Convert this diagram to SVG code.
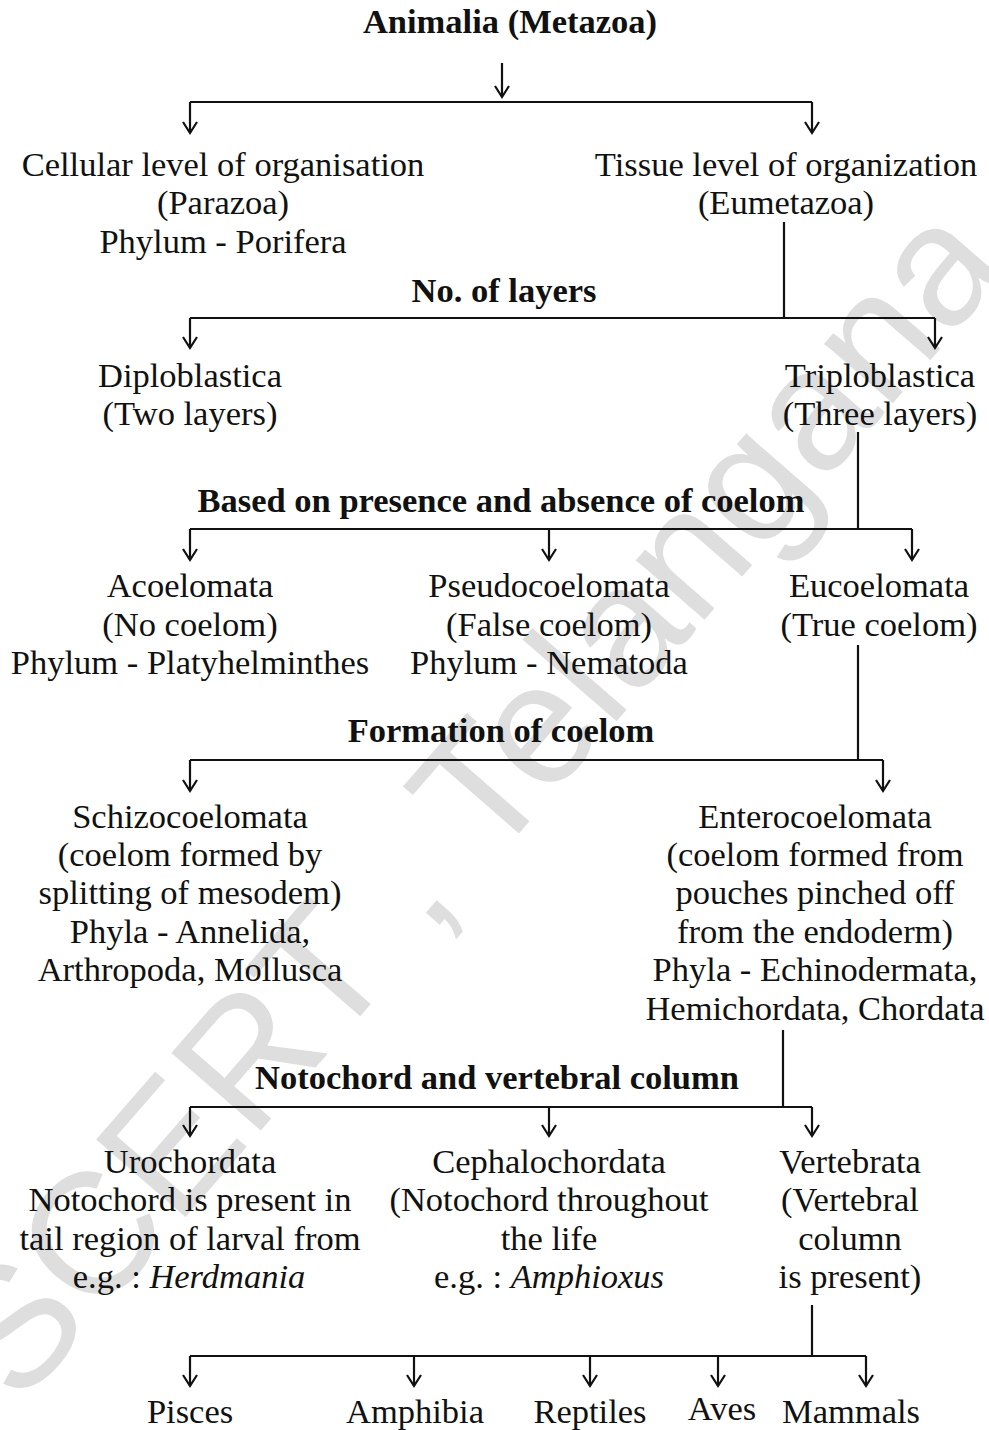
<svg xmlns="http://www.w3.org/2000/svg" width="989" height="1430" viewBox="0 0 989 1430">
<defs>
<marker id="ah" markerUnits="userSpaceOnUse" markerWidth="20" markerHeight="20" refX="15" refY="10" orient="auto" viewBox="0 0 20 20">
<path d="M4,3 L15,10 L4,17" fill="none" stroke="#111" stroke-width="2.2"/>
</marker>
</defs>
<style>
text{font-family:"Liberation Serif","Times New Roman",serif;font-size:34.5px;fill:#111;text-anchor:middle}
.b{font-weight:bold}
.i{font-style:italic}
.wm{font-family:"Liberation Sans",Arial,sans-serif;font-size:172px;fill:#dedede;text-anchor:middle}
.ln{fill:none;stroke:#111;stroke-width:2.2}
.ar{fill:none;stroke:#111;stroke-width:2.2;marker-end:url(#ah)}
</style>
<rect width="989" height="1430" fill="#fff"/>
<text class="wm" transform="translate(515,838) rotate(-49)">SCERT , Telangana</text>

<g id="connectors">
<path class="ar" d="M502,63 V97"/>
<path class="ln" d="M190,102 H812"/>
<path class="ar" d="M190,102 V133"/>
<path class="ar" d="M812,102 V133"/>

<path class="ln" d="M784,222 V318"/>
<path class="ln" d="M190,318 H935"/>
<path class="ar" d="M190,318 V348"/>
<path class="ar" d="M935,318 V348"/>

<path class="ln" d="M858,432 V529"/>
<path class="ln" d="M190,529 H912"/>
<path class="ar" d="M190,529 V560"/>
<path class="ar" d="M549,529 V560"/>
<path class="ar" d="M912,529 V560"/>

<path class="ln" d="M858,645 V760"/>
<path class="ln" d="M190,760 H883"/>
<path class="ar" d="M190,760 V791"/>
<path class="ar" d="M883,760 V791"/>

<path class="ln" d="M783,1030 V1107"/>
<path class="ln" d="M190,1107 H812"/>
<path class="ar" d="M190,1107 V1136"/>
<path class="ar" d="M549,1107 V1136"/>
<path class="ar" d="M812,1107 V1136"/>

<path class="ln" d="M812,1305 V1356"/>
<path class="ln" d="M190,1356 H866"/>
<path class="ar" d="M190,1356 V1386"/>
<path class="ar" d="M414,1356 V1386"/>
<path class="ar" d="M590,1356 V1386"/>
<path class="ar" d="M718,1356 V1386"/>
<path class="ar" d="M866,1356 V1386"/>
</g>

<g id="labels">
<text class="b" x="510" y="33">Animalia (Metazoa)</text>
<text class="b" x="504" y="302">No. of layers</text>
<text class="b" x="501" y="512">Based on presence and absence of coelom</text>
<text class="b" x="501" y="742">Formation of coelom</text>
<text class="b" x="497" y="1089">Notochord and vertebral column</text>
</g>

<g id="cellular">
<text x="223" y="176">Cellular level of organisation</text>
<text x="223" y="214">(Parazoa)</text>
<text x="223" y="253">Phylum - Porifera</text>
</g>
<g id="tissue">
<text x="786" y="176">Tissue level of organization</text>
<text x="786" y="214">(Eumetazoa)</text>
</g>
<g id="diploblastica">
<text x="190" y="387">Diploblastica</text>
<text x="190" y="425">(Two layers)</text>
</g>
<g id="triploblastica">
<text x="880" y="387">Triploblastica</text>
<text x="880" y="425">(Three layers)</text>
</g>
<g id="acoelomata">
<text x="190" y="597">Acoelomata</text>
<text x="190" y="636">(No coelom)</text>
<text x="190" y="674">Phylum - Platyhelminthes</text>
</g>
<g id="pseudocoelomata">
<text x="549" y="597">Pseudocoelomata</text>
<text x="549" y="636">(False coelom)</text>
<text x="549" y="674">Phylum - Nematoda</text>
</g>
<g id="eucoelomata">
<text x="879" y="597">Eucoelomata</text>
<text x="879" y="636">(True coelom)</text>
</g>
<g id="schizocoelomata">
<text x="190" y="828">Schizocoelomata</text>
<text x="190" y="866">(coelom formed by</text>
<text x="190" y="904">splitting of mesodem)</text>
<text x="190" y="943">Phyla - Annelida,</text>
<text x="190" y="981">Arthropoda, Mollusca</text>
</g>
<g id="enterocoelomata">
<text x="815" y="828">Enterocoelomata</text>
<text x="815" y="866">(coelom formed from</text>
<text x="815" y="904">pouches pinched off</text>
<text x="815" y="943">from the endoderm)</text>
<text x="815" y="981">Phyla - Echinodermata,</text>
<text x="815" y="1020">Hemichordata, Chordata</text>
</g>
<g id="urochordata">
<text x="190" y="1173">Urochordata</text>
<text x="190" y="1211">Notochord is present in</text>
<text x="190" y="1250">tail region of larval from</text>
<text x="189" y="1288">e.g. : <tspan class="i">Herdmania</tspan></text>
</g>
<g id="cephalochordata">
<text x="549" y="1173">Cephalochordata</text>
<text x="549" y="1211">(Notochord throughout</text>
<text x="549" y="1250">the life</text>
<text x="549" y="1288">e.g. : <tspan class="i">Amphioxus</tspan></text>
</g>
<g id="vertebrata">
<text x="850" y="1173">Vertebrata</text>
<text x="850" y="1211">(Vertebral</text>
<text x="850" y="1250">column</text>
<text x="850" y="1288">is present)</text>
</g>
<g id="pisces"><text x="190" y="1423">Pisces</text></g>
<g id="amphibia"><text x="415" y="1423">Amphibia</text></g>
<g id="reptiles"><text x="590" y="1423">Reptiles</text></g>
<g id="aves"><text x="722" y="1420">Aves</text></g>
<g id="mammals"><text x="851" y="1423">Mammals</text></g>
</svg>
